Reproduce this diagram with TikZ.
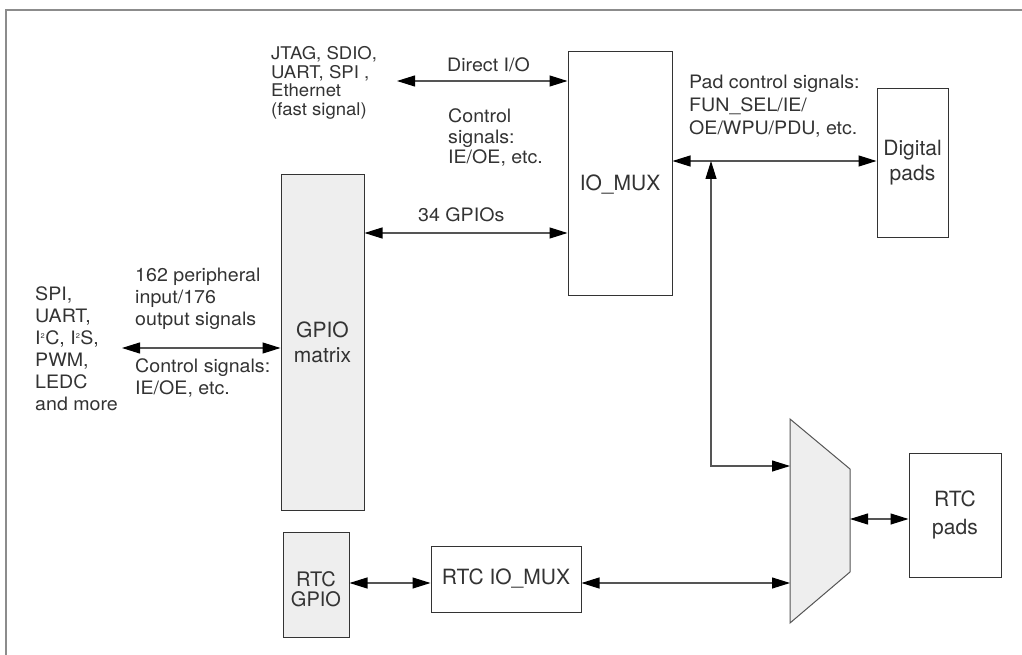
\documentclass[tikz,border=0pt]{standalone}
\usepackage{fontspec}
\setmainfont{TeX Gyre Heros}
\newfontfamily\notefont[FakeStretch=1.06]{TeX Gyre Heros}
\usepackage{xcolor}
\usetikzlibrary{arrows.meta}
\definecolor{txtgray}{HTML}{333333}
\definecolor{linegray}{HTML}{555555}
\definecolor{boxfill}{HTML}{EEEEEE}
\definecolor{framegray}{HTML}{8C8C8C}

\begin{document}
\begin{tikzpicture}[x=1pt, y=-1pt, every node/.style={text=txtgray, inner sep=0pt},
  box/.style={draw=black!80, line width=1pt},
  graybox/.style={box, fill=boxfill},
  boxtext/.style={font=\fontsize{21}{25}\selectfont, align=center},
  note/.style={font=\notefont\fontsize{18.5}{22}\selectfont, align=left, anchor=west},
  biarrow/.style={draw=linegray, line width=1.1pt,
    {Triangle[length=18pt, width=11pt, color=black]}-{Triangle[length=18pt, width=11pt, color=black]}}]
  \useasboundingbox (0,0) rectangle (1022,655);
  \draw[framegray, line width=2pt] (1022,10) -- (6,10) -- (6,655);

  \node[box, minimum width=104pt, minimum height=243pt] (iomux) at (620,173.5) {};
  \node[boxtext] (iomuxname) at (620,185) {IO\_MUX};
  \node[box, boxtext, minimum width=71pt, minimum height=148pt] (dpads) at (912.5,163) {Digital\\pads};
  \node[graybox, boxtext, minimum width=83pt, minimum height=335pt] (gpiom) at (322.5,342.5) {GPIO\\matrix};
  \node[graybox, minimum width=66pt, minimum height=105pt] (rtcgpio) at (316,584.5) {};
  \node[boxtext, font=\fontsize{20}{19.5}\selectfont] (rtcgpioname) at (316,589) {RTC\\GPIO};
  \node[box, boxtext, minimum width=150pt, minimum height=66pt] (rtciomux) at (506,579) {RTC IO\_MUX};
  \node[box, boxtext, font=\fontsize{21}{28}\selectfont, minimum width=92pt, minimum height=124pt] (rtcpads) at (955,515) {RTC\\pads};
  \draw[draw=linegray, fill=boxfill, line width=1pt] (790,419) -- (850,469) -- (850,572) -- (790,623) -- cycle;
  \coordinate (muxa) at (790,466);
  \coordinate (muxb) at (790,583);
  \coordinate (muxo) at (850,519);

  \node[note, font=\notefont\fontsize{17.5}{18.6}\selectfont] (fastsig) at (271,83) {JTAG, SDIO,\\UART, SPI ,\\Ethernet\\(fast signal)};
  \node[note] (dioname) at (447,65) {Direct I/O};
  \node[note, font=\notefont\fontsize{18.5}{20.5}\selectfont] (dioctrl) at (448,137.5) {Control\\signals:\\IE/OE, etc.};
  \node[note] (gpnum) at (418,215) {34 GPIOs};
  \node[note, font=\notefont\fontsize{18.5}{23}\selectfont] (padctrl) at (689,106) {Pad control signals:\\FUN\_SEL/IE/\\OE/WPU/PDU, etc.};
  \node[note] (periph) at (35,349) {SPI,\\UART,\\I\textsuperscript{\scriptsize 2}C, I\textsuperscript{\scriptsize 2}S,\\PWM,\\LEDC\\and more};
  \node[note] (sigcount) at (135,299) {162 peripheral\\input/176\\output signals};
  \node[note] (gpctrl) at (135,378) {Control signals:\\IE/OE, etc.};

  \coordinate (dio) at (397,81);
  \coordinate (gp) at (460,233);
  \coordinate (pc) at (711,161);
  \coordinate (per) at (122,348);
  \draw[biarrow] (dio) -- (iomux.west |- dio);
  \draw[biarrow] (gpiom.east |- gp) -- (iomux.west |- gp);
  \draw[biarrow] (iomux.east |- pc) -- (dpads.west |- pc);
  \draw[biarrow] (pc) |- (muxa);
  \draw[biarrow] (per) -- (gpiom.west |- per);
  \draw[biarrow] (rtcgpio.east |- muxb) -- (rtciomux.west |- muxb);
  \draw[biarrow] (rtciomux.east |- muxb) -- (muxb);
  \draw[biarrow] (muxo) -- (rtcpads.west |- muxo);
\end{tikzpicture}
\end{document}
